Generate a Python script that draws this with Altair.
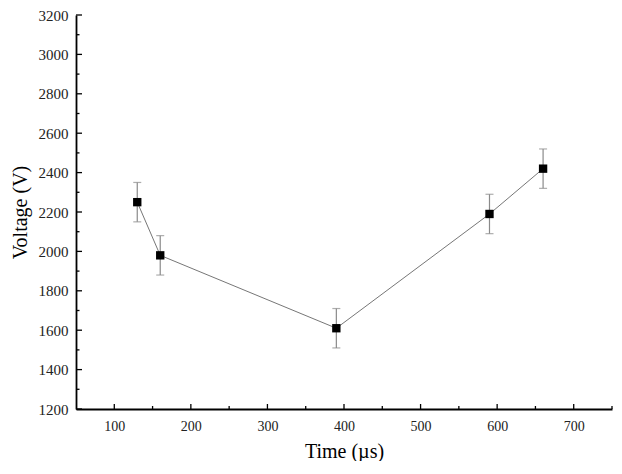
import altair as alt
import pandas as pd

time_us = [130, 160, 390, 590, 660]
voltage = [2250, 1980, 1610, 2190, 2420]
err = [100, 100, 100, 100, 100]

x_major = [100, 200, 300, 400, 500, 600, 700]
x_minor = [150, 250, 350, 450, 550, 650, 750]
y_major = [1200, 1400, 1600, 1800, 2000, 2200, 2400, 2600, 2800, 3000, 3200]
y_minor = [1300, 1500, 1700, 1900, 2100, 2300, 2500, 2700, 2900, 3100]

W, H = 536, 394
FONT = "Liberation Serif"

df = pd.DataFrame({"t": time_us, "v": voltage, "e": err})
df["lo"] = df["v"] - df["e"]
df["hi"] = df["v"] + df["e"]

xs = alt.Scale(domain=[50, 750], nice=False, zero=False)
ys = alt.Scale(domain=[1200, 3200], nice=False, zero=False)

common = dict(ticks=False, grid=False, labelOverlap=False,
              domainColor="black", domainWidth=1.8,
              labelFont=FONT, labelColor="#222",
              titleFont=FONT, titleFontSize=20, titleFontWeight="normal",
              titleColor="black")
x_axis = alt.Axis(values=x_major, format="d", labelFontSize=14, labelPadding=10,
                  titlePadding=8, **common)
y_axis = alt.Axis(values=y_major, format="d", labelFontSize=15, labelPadding=8,
                  titlePadding=8, **common)


def xe(field="t"):
    return alt.X(f"{field}:Q", scale=xs, title="Time (µs)", axis=x_axis)


def ye(field="v"):
    return alt.Y(f"{field}:Q", scale=ys, title="Voltage (V)", axis=y_axis)


base = alt.Chart(df)

line = base.mark_line(color="#666666", strokeWidth=0.9).encode(x=xe(), y=ye())

bars = base.mark_rule(color="#8a8a8a", strokeWidth=1.2).encode(
    x=xe(), y=ye("lo"), y2="hi:Q")
cap_lo = base.mark_tick(color="#8a8a8a", orient="horizontal", size=8, thickness=1.2).encode(
    x=xe(), y=ye("lo"))
cap_hi = base.mark_tick(color="#8a8a8a", orient="horizontal", size=8, thickness=1.2).encode(
    x=xe(), y=ye("hi"))

pts = base.mark_point(shape="square", filled=True, color="black", size=70, opacity=1).encode(
    x=xe(), y=ye())

xmaj = alt.Chart(pd.DataFrame({"t": x_major})).mark_rule(color="black", strokeWidth=1.3).encode(
    x=xe(), y=alt.value(H), y2=alt.value(H - 5))
xmin = alt.Chart(pd.DataFrame({"t": x_minor})).mark_rule(color="black", strokeWidth=1.3).encode(
    x=xe(), y=alt.value(H), y2=alt.value(H - 3))
ymaj = alt.Chart(pd.DataFrame({"v": y_major})).mark_rule(color="black", strokeWidth=1.3).encode(
    y=ye(), x=alt.value(0), x2=alt.value(6))
ymin = alt.Chart(pd.DataFrame({"v": y_minor})).mark_rule(color="black", strokeWidth=1.3).encode(
    y=ye(), x=alt.value(0), x2=alt.value(3.5))

chart = alt.layer(line, bars, cap_lo, cap_hi, pts, xmaj, xmin, ymaj, ymin).properties(
    width=W, height=H, background="white",
    padding={"left": 2, "right": 1, "top": 0, "bottom": 0},
).configure_view(stroke=None).configure_axis(
    labelFont=FONT, titleFont=FONT
).configure_text(font=FONT)

chart.save("out.html", embed_options={"renderer": "svg", "actions": False})
